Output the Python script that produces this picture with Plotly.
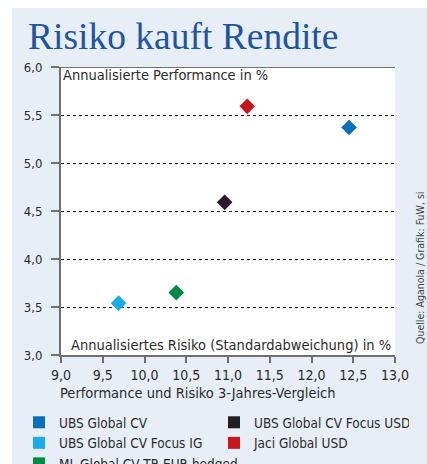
import plotly.graph_objects as go

# ---- data ----
funds = ["UBS Global CV", "UBS Global CV Focus USD", "UBS Global CV Focus IG",
         "Jaci Global USD", "ML Global CV TR EUR hedged"]
risk = [12.45, 10.96, 9.69, 11.23, 10.38]          # annualised risk (std dev) in %
performance = [5.37, 4.59, 3.54, 5.59, 3.65]      # annualised performance in %
colors = ["#0a70bb", "#2a1a2c", "#18ade9", "#c8161e", "#00893f"]
legend_colors = ["#0a70bb", "#231f20", "#18ade9", "#c8161e", "#00893f"]

x_ticks = [9.0, 9.5, 10.0, 10.5, 11.0, 11.5, 12.0, 12.5, 13.0]
y_ticks = [3.0, 3.5, 4.0, 4.5, 5.0, 5.5, 6.0]

title_text = "Risiko kauft Rendite"
y_label = "Annualisierte Performance in %"
x_label = "Annualisiertes Risiko (Standardabweichung) in %"
subtitle = "Performance und Risiko 3-Jahres-Vergleich"
source = "Quelle: Aganola / Grafik: FuW, si"

W, H = 427, 464
ML, MR, MT, MB = 61, 32, 67, 109
PW, PH = W - ML - MR, H - MT - MB


def px_x(p):
    return (p - ML) / PW


def px_y(p):
    return (H - MB - p) / PH


FONT = "DejaVu Sans Condensed, Liberation Sans Narrow, Roboto, sans-serif"
TXT = "#2b2b2b"
AXC = "#707070"

fig = go.Figure()

for name, xv, yv, c in zip(funds, risk, performance, colors):
    fig.add_trace(go.Scatter(x=[xv], y=[yv], mode="markers", name=name,
                             marker=dict(symbol="diamond", size=12, color=c,
                                         line=dict(width=0)),
                             showlegend=False))
for name, c in zip(funds, legend_colors):
    fig.add_trace(go.Scatter(x=[None], y=[None], mode="markers", name=name,
                             marker=dict(symbol="square", size=12, color=c),
                             showlegend=True))

shapes = [
    dict(type="rect", xref="paper", yref="paper", x0=px_x(12), x1=px_x(W + 2),
         y0=px_y(H + 2), y1=px_y(8), fillcolor="#e7eef6", line=dict(width=0), layer="below"),
    dict(type="rect", xref="x", yref="y", x0=x_ticks[0], x1=x_ticks[-1],
         y0=y_ticks[0], y1=y_ticks[-1], fillcolor="white", line=dict(width=0), layer="below"),
    dict(type="line", xref="x", yref="y", x0=x_ticks[0], x1=x_ticks[-1],
         y0=y_ticks[-1], y1=y_ticks[-1], line=dict(color=AXC, width=2), layer="above"),
]

annotations = [
    dict(text=title_text, xref="paper", yref="paper", x=px_x(26), y=px_y(36),
         xanchor="left", yanchor="middle", showarrow=False,
         font=dict(family="Liberation Serif, DejaVu Serif, serif", size=37.5, color="#1d55a3")),
    dict(text=y_label, xref="paper", yref="paper", x=px_x(61), y=px_y(75),
         xanchor="left", yanchor="middle", showarrow=False,
         font=dict(family=FONT, size=14.5, color=TXT)),
    dict(text=x_label, xref="paper", yref="paper", x=px_x(393), y=px_y(345),
         xanchor="right", yanchor="middle", showarrow=False,
         font=dict(family=FONT, size=14.5, color=TXT)),
    dict(text=subtitle, xref="paper", yref="paper", x=px_x(58), y=px_y(393),
         xanchor="left", yanchor="middle", showarrow=False,
         font=dict(family=FONT, size=14.5, color=TXT)),
    dict(text=source, xref="paper", yref="paper", x=px_x(420), y=px_y(268),
         xanchor="center", yanchor="middle", textangle=-90, showarrow=False,
         font=dict(family=FONT, size=10.5, color="#444444")),
]

fig.update_layout(
    width=W, height=H,
    margin=dict(l=ML, r=MR, t=MT, b=MB, autoexpand=False),
    paper_bgcolor="white", plot_bgcolor="white",
    separators=",.",
    font=dict(family=FONT, color=TXT),
    shapes=shapes, annotations=annotations,
    showlegend=True,
    legend=dict(orientation="h", x=px_x(19), y=px_y(407), xanchor="left", yanchor="top",
                entrywidth=150, entrywidthmode="pixels", bgcolor="rgba(0,0,0,0)",
                font=dict(family=FONT, size=13.5, color=TXT), tracegroupgap=0,
                itemclick=False),
    xaxis=dict(range=[x_ticks[0], x_ticks[-1]], tickvals=x_ticks, tickformat=".1f",
               showgrid=False, zeroline=False, showline=True, linecolor=AXC, linewidth=2,
               ticks="outside", ticklen=6, tickwidth=1.5, tickcolor=AXC,
               tickfont=dict(family=FONT, size=14, color=TXT), fixedrange=True),
    yaxis=dict(range=[y_ticks[0], y_ticks[-1]], tickvals=y_ticks, tickformat=".1f",
               showgrid=True, gridcolor="#111111", griddash="dot", gridwidth=1,
               zeroline=False, showline=True, linecolor=AXC, linewidth=2,
               ticks="outside", ticklen=8, tickwidth=1.5, tickcolor=AXC,
               ticklabelstandoff=6,
               tickfont=dict(family=FONT, size=13, color=TXT), fixedrange=True),
)

fig.write_html("out.html", config={"displayModeBar": False},
               post_script="document.body.style.margin='0';document.body.style.overflow='hidden';")
